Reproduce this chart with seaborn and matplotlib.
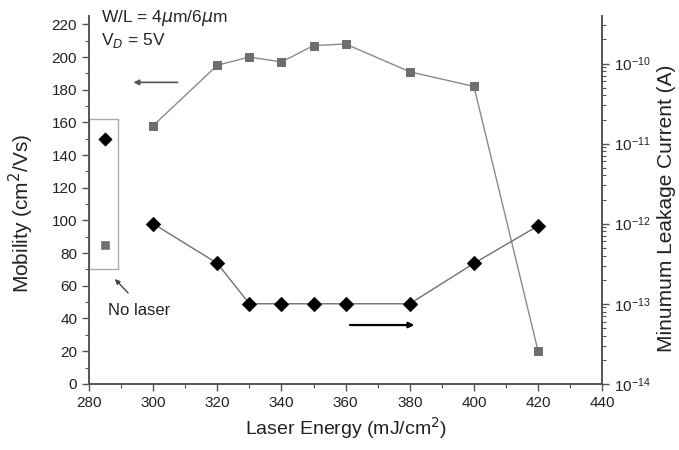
import matplotlib
matplotlib.use("Agg")
import matplotlib.pyplot as plt
import seaborn as sns
import pandas as pd
from matplotlib.patches import Rectangle
from matplotlib.ticker import MultipleLocator, LogLocator, NullFormatter

energy = [300, 320, 330, 340, 350, 360, 380, 400, 420]
mobility = [158, 195, 200, 197, 207, 208, 191, 182, 20]
leakage = [1.0e-12, 3.2e-13, 1.0e-13, 1.0e-13, 1.0e-13, 1.0e-13, 1.0e-13, 3.2e-13, 9.4e-13]
nolaser_x = [285]
nolaser_mobility = [85]
nolaser_leakage = [1.13e-11]

sns.set_theme(style="ticks")
plt.rcParams['font.family'] = ['Liberation Sans', 'DejaVu Sans']

fig = plt.figure(figsize=(6.79, 4.5), dpi=100)
ax = fig.add_axes([0.131, 0.147, 0.756, 0.817])
ax2 = ax.twinx()

df = pd.DataFrame({"energy": energy, "mobility": mobility, "leakage": leakage})
sns.lineplot(data=df, x="energy", y="mobility", ax=ax, color="#8a8a8a", lw=1.0,
             marker="s", markersize=6, markerfacecolor="#6e6e6e", markeredgecolor="#6e6e6e")
sns.lineplot(data=df, x="energy", y="leakage", ax=ax2, color="#707070", lw=1.0,
             marker="D", markersize=7, markerfacecolor="black", markeredgecolor="black")
sns.scatterplot(x=nolaser_x, y=nolaser_mobility, ax=ax, marker="s", s=30, color="#6e6e6e", edgecolor="#6e6e6e")
sns.scatterplot(x=nolaser_x, y=nolaser_leakage, ax=ax2, marker="D", s=45, color="black", edgecolor="black")

ax.set_xlim(280, 440)
ax.set_ylim(0, 225)
ax2.set_yscale("log")
ax2.set_ylim(1e-14, 3.9e-10)

ax.xaxis.set_major_locator(MultipleLocator(20))
ax.xaxis.set_minor_locator(MultipleLocator(10))
ax.yaxis.set_major_locator(MultipleLocator(20))
ax.yaxis.set_minor_locator(MultipleLocator(10))
ax2.yaxis.set_major_locator(LogLocator(base=10, numticks=10))
ax2.yaxis.set_minor_locator(LogLocator(base=10, subs=range(2, 10), numticks=50))
ax2.yaxis.set_minor_formatter(NullFormatter())

for a in (ax, ax2):
    a.spines["top"].set_visible(False)
    for s in a.spines.values():
        s.set_color("#555555")
        s.set_linewidth(1.2)
    a.tick_params(which="major", length=5, width=1, color="#555555", labelsize=11, labelcolor="#222222")
    a.tick_params(which="minor", length=3, width=0.8, color="#555555")
    a.grid(False)

ax.set_xlabel("Laser Energy (mJ/cm$^2$)", fontsize=14, color="#222222")
ax.set_ylabel("Mobility (cm$^2$/Vs)", fontsize=15, color="#222222")
ax2.set_ylabel("Minumum Leakage Current (A)", fontsize=15, color="#222222")
ax.yaxis.set_label_coords(-0.131, 0.465)
ax.yaxis.label.set_verticalalignment("center")
ax2.yaxis.set_label_coords(1.125, 0.478)
ax2.yaxis.label.set_verticalalignment("center")

ax.text(0.023, 0.995, "W/L = 4$\\mu$m/6$\\mu$m", transform=ax.transAxes, fontsize=12.5, va="center")
ax.text(0.023, 0.935, "V$_D$ = 5V", transform=ax.transAxes, fontsize=12.5, va="center")

ax.add_patch(Rectangle((280, 70), 9, 92, fill=False, edgecolor="#aaaaaa", lw=1))
ax.annotate("", xy=(293, 184.5), xytext=(308.5, 184.5),
            arrowprops=dict(arrowstyle="-|>", color="#555555", lw=1.2, mutation_scale=8))
ax.annotate("", xy=(382.3, 36), xytext=(360.5, 36),
            arrowprops=dict(arrowstyle="-|>", color="black", lw=1.6, mutation_scale=8))
ax.annotate("", xy=(287.5, 65.4), xytext=(292.8, 54.4),
            arrowprops=dict(arrowstyle="-|>", color="#444444", lw=1.0, mutation_scale=7))
ax.text(286, 45, "No laser", fontsize=12, color="#222222", va="center")

fig.savefig("out.png", dpi=100)
